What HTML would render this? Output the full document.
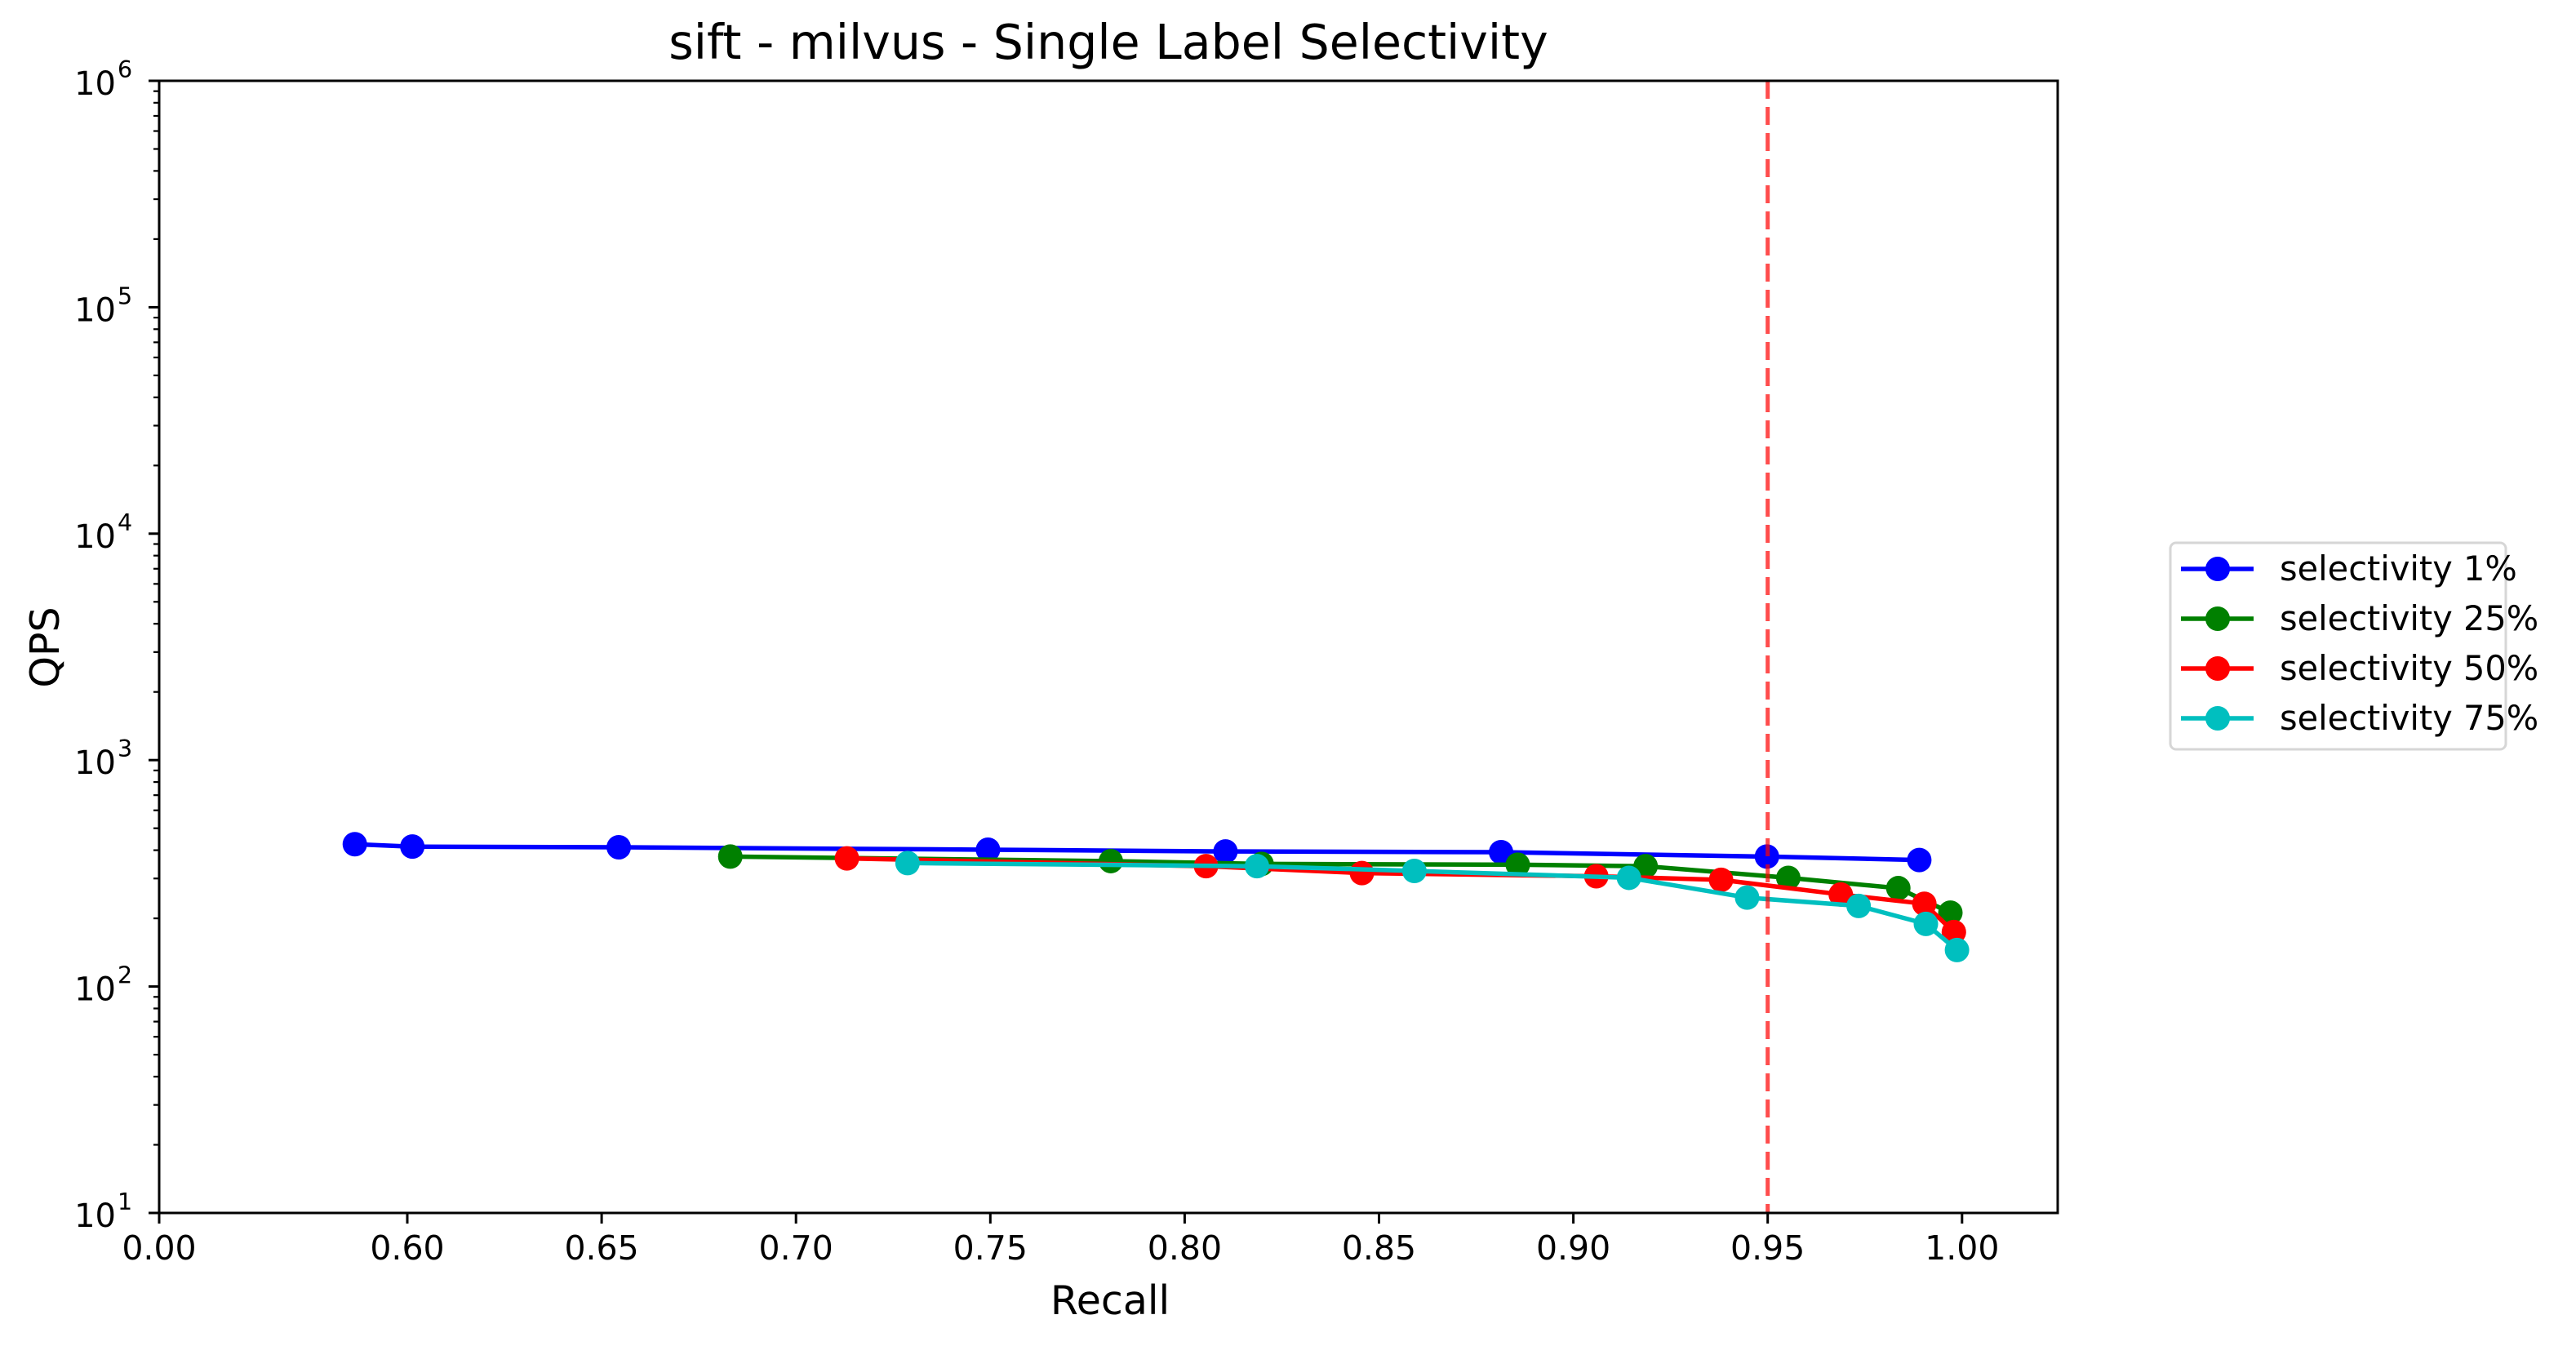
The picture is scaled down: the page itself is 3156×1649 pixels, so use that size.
<!DOCTYPE html>
<html><head><meta charset="utf-8"><style>
html,body{margin:0;padding:0;background:#fff}
svg{display:block;font-family:"DejaVu Sans","Liberation Sans",sans-serif}
</style></head><body>
<svg id="chart" width="3156" height="1649" viewBox="0 0 3156 1649" xmlns="http://www.w3.org/2000/svg">
<rect width="3156" height="1649" fill="#fff"/>
<text x="1358" y="72" font-size="58.5" text-anchor="middle">sift - milvus - Single Label Selectivity</text>
<text x="1360" y="1610" font-size="49" text-anchor="middle">Recall</text>
<text x="0" y="0" font-size="49" text-anchor="middle" transform="translate(72,793) rotate(-90)">QPS</text>
<g id="plot"></g>
<g id="legend"></g>
</svg>
<script>
const seriesNames = ["selectivity 1%","selectivity 25%","selectivity 50%","selectivity 75%"];
const seriesColors = ["#0000ff","#008000","#ff0000","#00bfbf"];
const recall1 = [0.5865,0.6013,0.6544,0.7494,0.8105,0.8814,0.9498,0.9890];
const qps1 = [425,415,412,402,395,392,375,362];
const recall25 = [0.6831,0.7810,0.8198,0.8857,0.9186,0.9553,0.9836,0.9970];
const qps25 = [375,358,348,345,340,302,272,212];
const recall50 = [0.7131,0.8055,0.8456,0.9059,0.9380,0.9688,0.9903,0.9979];
const qps50 = [368,340,317,307,296,255,232,174];
const recall75 = [0.7287,0.8186,0.8591,0.9143,0.9447,0.9734,0.9907,0.9987];
const qps75 = [351,340,324,302,247,227,189,145];
const xTicks = [0.60,0.65,0.70,0.75,0.80,0.85,0.90,0.95,1.00];
const yTickExps = [1,2,3,4,5,6];
const thresholdRecall = 0.95;

const NS="http://www.w3.org/2000/svg";
const L=195,R=2521,T=99,B=1486;
function xs(v){return 499+(v-0.6)*4762;}
function ys(q){return B-(Math.log10(q)-1)*(B-T)/5;}
function mk(tag,attrs,parent){const e=document.createElementNS(NS,tag);for(const k in attrs)e.setAttribute(k,attrs[k]);parent.appendChild(e);return e;}
const plot=document.getElementById('plot');
const legend=document.getElementById('legend');

yTickExps.forEach(ex=>{
  const y=ys(Math.pow(10,ex));
  const t=mk('line',{x1:L-13,x2:L,y1:y,y2:y,stroke:'#000','stroke-width':3},plot);
  
  
  const tx=mk('text',{x:142,y:y+17,'font-size':40,'text-anchor':'end'},plot);
  tx.textContent='10';
  
  
  const sp=mk('text',{x:144,y:y-4,'font-size':28.5},plot);
  sp.textContent=String(ex);
  
  
  if(ex<6){for(let m=2;m<=9;m++){const ym=ys(m*Math.pow(10,ex));
    const mt=mk('line',{x1:L-7,x2:L,y1:ym,y2:ym,stroke:'#000','stroke-width':2.2},plot);
    
    }}
});
const xt0=mk('line',{x1:L,x2:L,y1:B,y2:B+13,stroke:'#000','stroke-width':3},plot);


const xl0=mk('text',{x:L,y:B+57,'font-size':41,'text-anchor':'middle'},plot);
xl0.textContent='0.00';


xTicks.forEach(v=>{
  const x=xs(v);
  const t=mk('line',{x1:x,x2:x,y1:B,y2:B+13,stroke:'#000','stroke-width':3},plot);
  
  
  const tx=mk('text',{x:x,y:B+57,'font-size':41,'text-anchor':'middle'},plot);
  tx.textContent=v.toFixed(2);
  
  
});
const allR=[recall1,recall25,recall50,recall75], allQ=[qps1,qps25,qps50,qps75];
allR.forEach((rs,i)=>{
  const pts=rs.map((r,j)=>xs(r).toFixed(1)+','+ys(allQ[i][j]).toFixed(1)).join(' ');
  const pl=mk('polyline',{points:pts,fill:'none',stroke:seriesColors[i],'stroke-width':5.5,'stroke-linejoin':'round'},plot);
  
  
  rs.forEach((r,j)=>{
    const c=mk('circle',{cx:xs(r),cy:ys(allQ[i][j]),r:15,fill:seriesColors[i]},plot);
    
    
  });
});
const th=mk('line',{x1:xs(thresholdRecall),x2:xs(thresholdRecall),y1:T,y2:B,stroke:'#ff0000','stroke-opacity':0.7,'stroke-width':5,'stroke-dasharray':'22,10'},plot);


const fr=mk('rect',{x:L,y:T,width:R-L,height:B-T,fill:'none',stroke:'#000','stroke-width':3},plot);


const lb=mk('rect',{x:2659,y:665,width:411,height:253,rx:7,fill:'#fff',stroke:'#d6d6d6','stroke-width':3},legend);


seriesNames.forEach((n,i)=>{
  const y=697+i*61;
  const g=mk('g',{},legend);
  
  
  mk('line',{x1:2672,x2:2761,y1:y,y2:y,stroke:seriesColors[i],'stroke-width':5.5},g);
  mk('circle',{cx:2717,cy:y,r:15,fill:seriesColors[i]},g);
  const t=mk('text',{x:2793,y:y+14,'font-size':41.5},g);
  t.textContent=n;
});
</script>
</body></html>
